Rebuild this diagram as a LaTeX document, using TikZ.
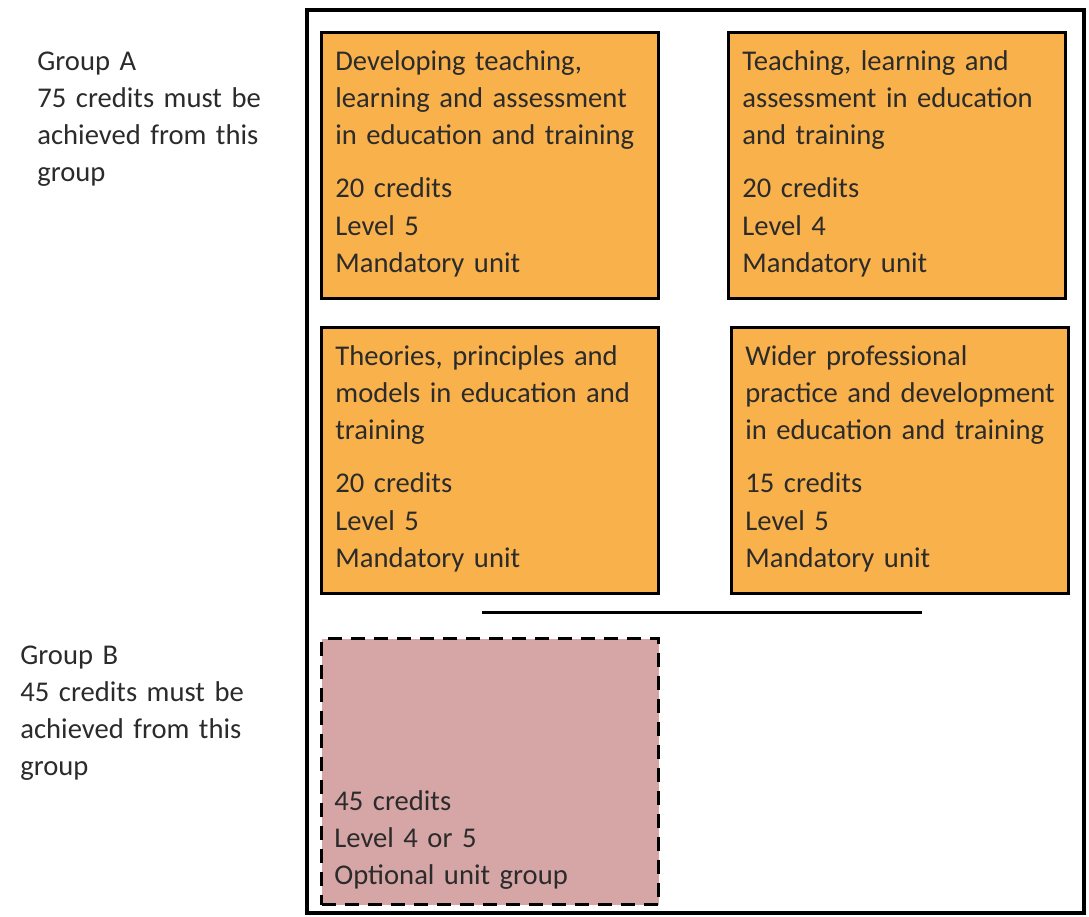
\documentclass[tikz,border=0pt]{standalone}
\usepackage{fontspec}
\setmainfont{Carlito}
\definecolor{unitOrange}{HTML}{F9B14B}
\definecolor{optPink}{HTML}{D6A6A7}
\definecolor{textDark}{HTML}{2B2B2B}
\usetikzlibrary{calc,positioning}

\tikzset{
  unitbox/.style={draw=black, line width=1.5pt, fill=unitOrange, inner sep=0pt,
    minimum width=168.5pt, minimum height=133pt, anchor=north west},
  optbox/.style={unitbox, fill=optPink, dash pattern=on 7pt off 4.5pt},
  unittext/.style={font=\fontsize{14.3}{18.6}\selectfont, text=textDark, align=left,
    inner sep=0pt, anchor=north west, text width=165pt},
  grouptext/.style={font=\fontsize{14.3}{18.4}\selectfont, text=textDark, align=left,
    inner sep=0pt, anchor=north west, text width=130pt}
}

\begin{document}
\begin{tikzpicture}[x=0.5pt, y=-0.5pt]
  \useasboundingbox (0,0) rectangle (1089,917);

  % Outer frame
  \draw[line width=2pt] (307,10) rectangle (1084,913);

  % Group labels
  \node[grouptext] (grpA) at (37,52) {Group A\\75 credits must be\\achieved from this\\group};
  \node[grouptext] (grpB) at (20,646) {Group B\\45 credits must be\\achieved from this\\group};

  % Group A -- mandatory units
  \node[unitbox] (u1) at (320,31) {};
  \node[unitbox] (u2) at (727,31) {};
  \node[unitbox] (u3) at (320,326) {};
  \node[unitbox] (u4) at (730,326) {};

  \node[unittext] (t1) at ([xshift=7.5pt,yshift=-9.5pt]u1.north west)
    {Developing teaching,\\learning and assessment\\in education and training\\[8pt]20 credits\\Level 5\\Mandatory unit};
  \node[unittext] (t2) at ([xshift=7.5pt,yshift=-9.5pt]u2.north west)
    {Teaching, learning and\\assessment in education\\and training\\[8pt]20 credits\\Level 4\\Mandatory unit};
  \node[unittext] (t3) at ([xshift=7.5pt,yshift=-9.5pt]u3.north west)
    {Theories, principles and\\models in education and\\training\\[8pt]20 credits\\Level 5\\Mandatory unit};
  \node[unittext] (t4) at ([xshift=7.5pt,yshift=-9.5pt]u4.north west)
    {Wider professional\\practice and development\\in education and training\\[8pt]15 credits\\Level 5\\Mandatory unit};

  % Separator between the groups
  \coordinate (sepL) at (482,612);
  \coordinate (sepR) at (922,612);
  \draw[line width=1.5pt] (sepL) -- (sepR);

  % Group B -- optional units
  \node[optbox] (u5) at (320,637) {};
  \node[unittext, anchor=south west] (t5) at ([xshift=7pt,yshift=8pt]u5.south west)
    {45 credits\\Level 4 or 5\\Optional unit group};

\end{tikzpicture}
\end{document}
